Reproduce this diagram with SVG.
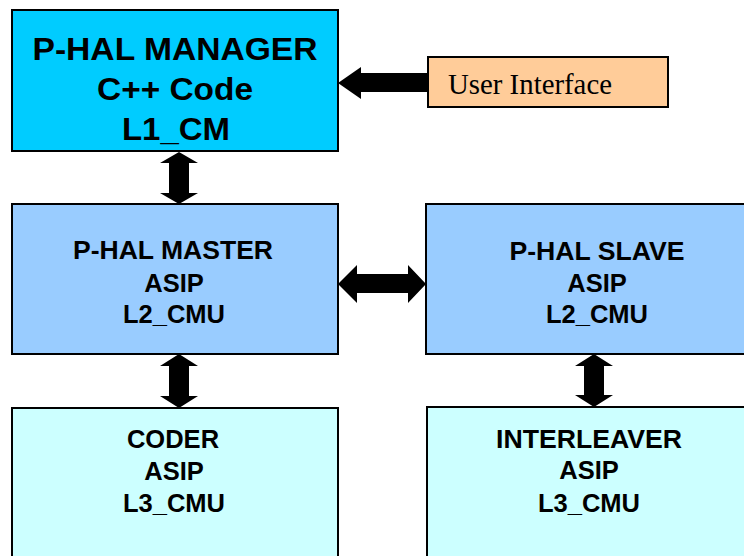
<svg xmlns="http://www.w3.org/2000/svg" width="744" height="556" viewBox="0 0 744 556">
<style>
.box{stroke:#000;stroke-width:2}
.t{font-family:"Liberation Sans",Arial,sans-serif;font-weight:bold;text-anchor:middle;fill:#000}
.big{font-size:31px}
.mid{font-size:25.5px}
.ui{font-family:"Liberation Serif","Times New Roman",serif;font-size:28.5px;fill:#000}
.arr{fill:#000}
</style>
<rect width="744" height="556" fill="#fff"/>
<g id="manager">
<rect class="box" x="12" y="10" width="326" height="141" fill="#00CCFF"/>
<text class="t big" x="175" y="60" textLength="285" lengthAdjust="spacingAndGlyphs">P-HAL MANAGER</text>
<text class="t big" x="175" y="100" textLength="156" lengthAdjust="spacingAndGlyphs">C++ Code</text>
<text class="t big" x="176" y="140" textLength="108" lengthAdjust="spacingAndGlyphs">L1_CM</text>
</g>
<g id="user-interface">
<rect class="box" x="428" y="57" width="240" height="50" fill="#FFCC99"/>
<text class="ui" x="448" y="94" textLength="164" lengthAdjust="spacingAndGlyphs">User Interface</text>
</g>
<g id="master">
<rect class="box" x="12" y="204" width="326" height="150" fill="#99CCFF"/>
<text class="t mid" x="173" y="259" textLength="200" lengthAdjust="spacingAndGlyphs">P-HAL MASTER</text>
<text class="t mid" x="174" y="292">ASIP</text>
<text class="t mid" x="174" y="323">L2_CMU</text>
</g>
<g id="slave">
<rect class="box" x="426" y="204" width="340" height="150" fill="#99CCFF"/>
<text class="t mid" x="597" y="260" textLength="175" lengthAdjust="spacingAndGlyphs">P-HAL SLAVE</text>
<text class="t mid" x="597" y="292">ASIP</text>
<text class="t mid" x="597" y="323">L2_CMU</text>
</g>
<g id="coder">
<rect class="box" x="12" y="408" width="326" height="160" fill="#CCFFFF"/>
<text class="t mid" x="173" y="448">CODER</text>
<text class="t mid" x="174" y="480">ASIP</text>
<text class="t mid" x="174" y="512">L3_CMU</text>
</g>
<g id="interleaver">
<rect class="box" x="427" y="407" width="340" height="160" fill="#CCFFFF"/>
<text class="t mid" x="589" y="448" textLength="186" lengthAdjust="spacingAndGlyphs">INTERLEAVER</text>
<text class="t mid" x="589" y="479">ASIP</text>
<text class="t mid" x="589" y="512">L3_CMU</text>
</g>
<g id="connectors">
<polygon class="arr" points="338,83 361,67 361,73 428,73 428,92 361,92 361,99"/>
<polygon class="arr" points="179,152 198,163 189,163 189,193 198,193 179,204 160,193 169,193 169,163 160,163"/>
<polygon class="arr" points="179,354 198,366 189,366 189,396 198,396 179,408 160,396 169,396 169,366 160,366"/>
<polygon class="arr" points="594,354 613,366 604,366 604,395 613,395 594,407 575,395 584,395 584,366 575,366"/>
<polygon class="arr" points="338,284 357,265 357,274 408,274 408,265 426,284 408,303 408,293 357,293 357,303"/>
</g>
</svg>
